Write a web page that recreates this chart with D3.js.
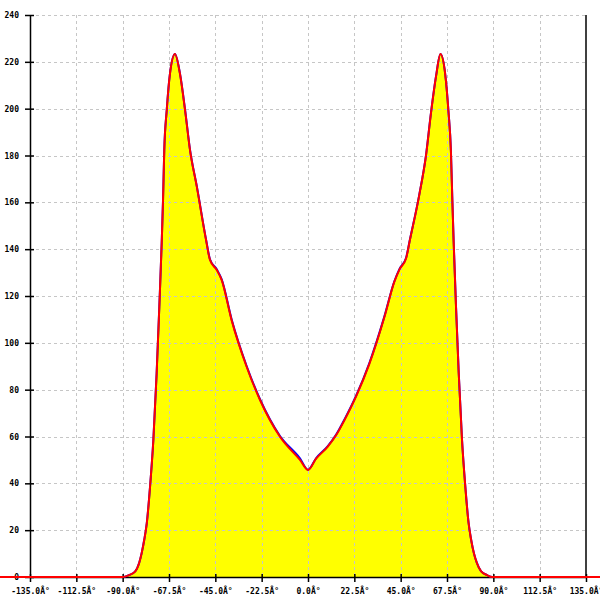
<!DOCTYPE html>
<html>
<head>
<meta charset="utf-8">
<script src="https://cdn.jsdelivr.net/npm/d3@7"></script>
<style>
  html, body { margin: 0; padding: 0; background: #ffffff; }
  svg { display: block; }
  text { font-family: "DejaVu Sans Mono", monospace; font-size: 8px; font-weight: bold; fill: #000; }
</style>
</head>
<body>
<svg id="chart" width="600" height="600"></svg>
<script>
// ---- data ----
const angles = [-150, -90, -87, -84, -82, -80.8, -79.5, -78.3, -76.7, -75.1, -73.5, -72.2, -71.0, -70.4, -69.8, -68.6, -67.0, -64.6,
  -62.2, -59.7, -57.3, -54.0, -49.5, -47.6, -44.3, -41.9, -37.1, -29.8, -23.3, -13.6, -3.9, 0,
  3.9, 9.5, 13.6, 17.9, 23.3, 29.8, 37.1, 41.9, 44.5, 47.6, 49.5, 54.0, 57.3, 59.7, 62.2, 64.3,
  66.6, 68.2, 69.4, 70.1, 70.7, 71.9, 73.2, 74.8, 76.4, 78.0, 79.2, 80.6, 82, 84, 87, 89.5, 150];

const redValues = [0, 0, 0.8, 2.3, 6, 10.1, 16, 22.9, 38.6, 58.5, 87, 115.4, 143.9, 161, 182.3, 199.4, 215.2, 223.3,
  215, 199.4, 182.3, 166.7, 143.9, 135.4, 131.1, 126.8, 109.7, 89.8, 75.6, 59.9, 50, 45.7,
  50.5, 55.6, 60.5, 67.3, 77, 91, 111, 126, 131.5, 136, 144, 163, 180, 198, 214, 223.3,
  215, 199, 182, 161, 144, 115, 87, 58.5, 38.6, 23, 16, 10, 6, 2.5, 0.8, 0, 0];

const blueValues = [0, 0, 0.8, 2.3, 6, 10.1, 16, 22.9, 38.6, 58.5, 87, 115.4, 143.9, 161, 182.3, 199.4, 215.2, 223.3,
  215.2, 199.6, 182.5, 166.9, 144.1, 135.7, 131.4, 127.1, 110.1, 90.1, 75.9, 60.2, 50.7, 45.8,
  50.7, 55.8, 60.7, 67.6, 77.3, 91.4, 111.3, 126.2, 131.7, 136.2, 144.1, 163.1, 180.1, 198.1, 214, 223.3,
  215, 199, 182, 161, 144, 115, 87, 58.5, 38.6, 23, 16, 10, 6, 2.5, 0.8, 0, 0];

const xTicks = [-135, -112.5, -90, -67.5, -45, -22.5, 0, 22.5, 45, 67.5, 90, 112.5, 135];
const xTickLabels = ["-135.0Â°", "-112.5Â°", "-90.0Â°", "-67.5Â°", "-45.0Â°", "-22.5Â°", "0.0Â°", "22.5Â°", "45.0Â°", "67.5Â°", "90.0Â°", "112.5Â°", "135.0Â°"];
const yTicks = [0, 20, 40, 60, 80, 100, 120, 140, 160, 180, 200, 220, 240];
const yTickLabels = ["0", "20", "40", "60", "80", "100", "120", "140", "160", "180", "200", "220", "240"];

// ---- drawing ----
const svg = d3.select("#chart");
const x = d3.scaleLinear().domain([-135, 135]).range([30, 586]);
const y = d3.scaleLinear().domain([0, 240]).range([577, 15]);

const redData = angles.map((a, i) => ({ a, v: redValues[i] }));
const blueData = angles.map((a, i) => ({ a, v: blueValues[i] }));

// fill
const area = d3.area().x(d => x(d.a)).y0(y(0)).y1(d => y(d.v)).curve(d3.curveMonotoneX);
svg.append("path").datum(redData).attr("d", area).attr("fill", "#ffff00");

// grid
const grid = svg.append("g").attr("stroke", "#c6c6c6").attr("stroke-width", 1).attr("stroke-dasharray", "3,3");
grid.selectAll("line.v").data(xTicks.filter(t => t > -135 && t < 135)).enter().append("line")
  .attr("x1", d => Math.round(x(d)) + 0.5).attr("x2", d => Math.round(x(d)) + 0.5)
  .attr("y1", y(240)).attr("y2", y(0));
grid.selectAll("line.h").data(yTicks.filter(t => t > 0)).enter().append("line")
  .attr("y1", d => Math.round(y(d)) + 0.5).attr("y2", d => Math.round(y(d)) + 0.5)
  .attr("x1", x(-135)).attr("x2", x(135));

// axes
const xAxis = d3.axisBottom(x).tickValues(xTicks).tickFormat((d, i) => xTickLabels[i]).tickSize(5).tickSizeOuter(0);
const gx = svg.append("g").attr("transform", `translate(0,${y(0)})`).call(xAxis);
gx.select(".domain").attr("stroke", "#000").attr("stroke-width", 1.5);
gx.selectAll(".tick line").attr("stroke", "#000").attr("stroke-width", 1.5).attr("y1", -3);
gx.selectAll(".tick text").attr("y", 11).attr("dy", "0.71em").style("font-family", "DejaVu Sans Mono").style("font-size", "8px").style("font-weight", "bold");

const yAxis = d3.axisLeft(y).tickValues(yTicks).tickFormat((d, i) => yTickLabels[i]).tickSize(5).tickSizeOuter(0);
const gy = svg.append("g").attr("transform", `translate(${x(-135)},0)`).call(yAxis);
gy.select(".domain").attr("stroke", "#000").attr("stroke-width", 1.5);
gy.selectAll(".tick line").attr("stroke", "#000").attr("stroke-width", 1.5).attr("x1", 4);
gy.selectAll(".tick text").attr("x", -11).style("font-family", "DejaVu Sans Mono").style("font-size", "8px").style("font-weight", "bold");

// right border
svg.append("line").attr("x1", x(135)).attr("x2", x(135)).attr("y1", y(240)).attr("y2", y(0))
  .attr("stroke", "#000").attr("stroke-width", 1.5);

// lines
const line = d3.line().x(d => x(d.a)).y(d => y(d.v)).curve(d3.curveMonotoneX);
svg.append("path").datum(blueData).attr("d", line).attr("fill", "none").attr("stroke", "#0000ff").attr("stroke-width", 2);
svg.append("path").datum(redData).attr("d", line).attr("fill", "none").attr("stroke", "#ff0000").attr("stroke-width", 2);
</script>
</body>
</html>
